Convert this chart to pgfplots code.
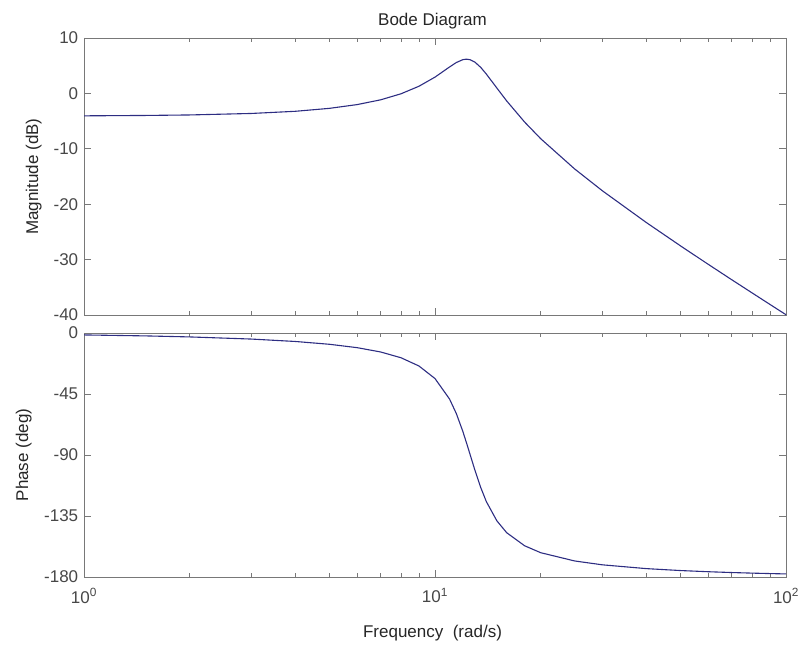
\documentclass[border=0pt]{standalone}
\usepackage{fontspec}
\setmainfont{Liberation Sans}
\usepackage{pgfplots}
\usepackage{pgfplotstable}
\pgfplotsset{compat=1.18}
\definecolor{curve}{RGB}{45,45,130}
\definecolor{frame}{RGB}{120,120,120}

% w (rad/s), magnitude (dB), phase (deg)
\pgfplotstableread{
w mag phase
1 -4.05 -1.42
1.5 -3.98 -2.14
2 -3.89 -2.89
3 -3.62 -4.47
4 -3.23 -6.25
5 -2.70 -8.31
6 -2.02 -10.81
7 -1.16 -13.99
8 -0.07 -18.25
9 1.29 -24.33
10 2.94 -33.6
11 4.77 -48.7
11.5 5.57 -59.4
12 6.09 -72.5
12.3 6.18 -81.2
12.6 6.07 -90.0
13 5.63 -101.4
13.5 4.69 -114.0
14 3.50 -124.3
15 0.98 -138.5
16 -1.35 -147.3
18 -5.17 -156.95
20 -8.17 -162.06
25 -13.64 -168.17
30 -17.59 -171.02
40 -23.31 -173.81
50 -27.50 -175.23
60 -30.84 -176.10
70 -33.62 -176.70
80 -36.00 -177.13
90 -38.09 -177.47
100 -39.95 -177.73
}\bode

\pgfplotsset{bodestyle/.style={
  scale only axis, width=702bp,
  xmin=1, xmax=100, xtick={1,10,100},
  axis line style={frame, line width=0.8bp},
  every tick/.style={frame, line width=0.7bp},
  tick align=inside, major tick length=7bp, minor tick length=4bp,
  tick label style={font=\fontsize{17bp}{19bp}\selectfont, text=black!72},
  yticklabel style={xshift=-2.3bp},
  xticklabel style={yshift=-8bp},
}}

\begin{document}
\begin{tikzpicture}[x=1bp,y=1bp]
\useasboundingbox (0,0) rectangle (806,-646);

\begin{semilogxaxis}[bodestyle, at={(84bp,-38bp)}, anchor=north west, height=277bp,
  ymin=-40, ymax=10, ytick={-40,-30,-20,-10,0,10},
  yticklabels={-40,-30,-20,-10,0,10}, xticklabels={}]
\addplot[curve, line width=1.1bp] table[x=w, y=mag] {\bode};
\end{semilogxaxis}

\begin{semilogxaxis}[bodestyle, at={(84bp,-333bp)}, anchor=north west, height=244bp,
  ymin=-180, ymax=0, ytick={-180,-135,-90,-45,0},
  yticklabels={-180,-135,-90,-45,0},
  xticklabels={10\textsuperscript{0},10\textsuperscript{1},10\textsuperscript{2}}]
\addplot[curve, line width=1.1bp] table[x=w, y=phase] {\bode};
\end{semilogxaxis}

\node[anchor=base, font=\fontsize{17bp}{19bp}\selectfont, text=black!85] at (432.5,-26) {Bode Diagram};
\node[anchor=base, font=\fontsize{17bp}{19bp}\selectfont, text=black!85] at (432.5,-637) {Frequency\ \ (rad/s)};
\node[anchor=base, rotate=90, font=\fontsize{17bp}{19bp}\selectfont, text=black!85] at (38,-176.5) {Magnitude (dB)};
\node[anchor=base, rotate=90, font=\fontsize{17bp}{19bp}\selectfont, text=black!85] at (28,-455) {Phase (deg)};
\end{tikzpicture}
\end{document}
